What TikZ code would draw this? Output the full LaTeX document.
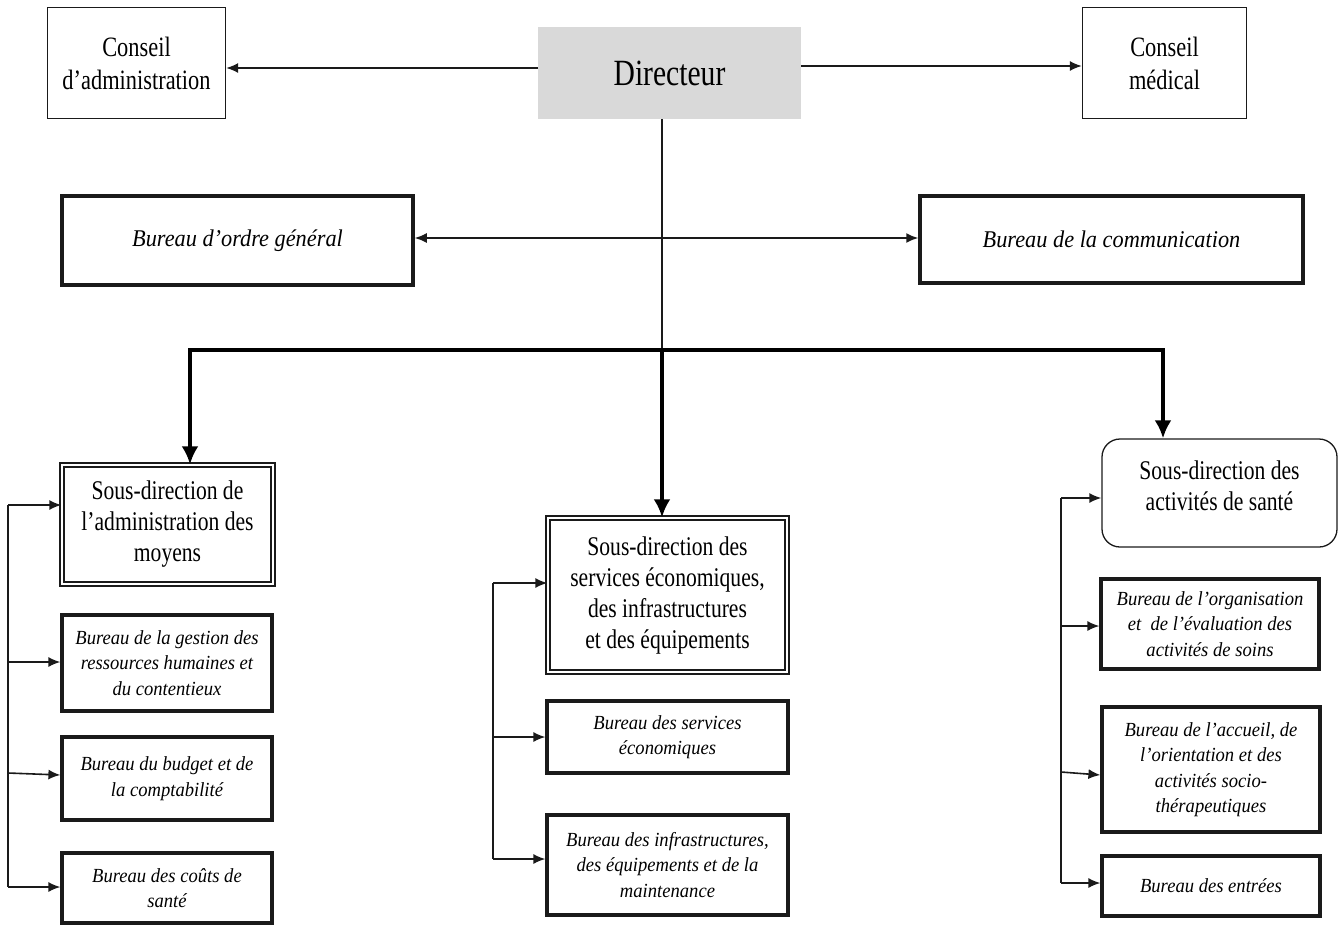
\documentclass[tikz,border=0pt]{standalone}
\usepackage{fontspec}
\setmainfont{Liberation Serif}[FakeStretch=0.8]
\newfontfamily\bureaufont{Liberation Serif}[FakeStretch=0.93]
\usetikzlibrary{arrows.meta}
\definecolor{dirgray}{HTML}{D9D9D9}
\definecolor{ink}{HTML}{1A1A1A}
\tikzset{
  thinbox/.style={draw=ink, line width=1.3pt, inner sep=2pt, align=center, font=\fontsize{28}{33}\selectfont},
  topbureau/.style={draw=ink, line width=3.5pt, inner sep=2pt, align=center, font=\bureaufont\fontsize{24}{28}\itshape\selectfont},
  subdir/.style={draw=ink, double, double distance=2.5pt, line width=1.3pt, inner sep=2pt, align=center, font=\fontsize{27}{31}\selectfont},
  bureau/.style={draw=ink, line width=3.2pt, inner sep=2pt, align=center, font=\bureaufont\fontsize{20}{25.5}\itshape\selectfont},
  arr/.style={draw=ink, line width=1.6pt, -{Latex[length=12pt,width=10pt]}},
  link/.style={draw=ink, line width=1.6pt},
  bigarr/.style={draw=black, line width=4.5pt, -{Latex[length=18pt,width=17pt]}},
  bus/.style={draw=black, line width=4.5pt, line cap=rect},
}
\begin{document}
\begin{tikzpicture}[x=1pt,y=-1pt]
\useasboundingbox (0,0) rectangle (1339,927);
% top row
\node[thinbox, minimum width=178pt, minimum height=111pt] (ca) at (136.5,63) {Conseil\\d’administration};
\node[fill=dirgray, minimum width=263pt, minimum height=92pt, font=\fontsize{37}{40}\selectfont] (dir) at (669.5,73) {Directeur};
\node[thinbox, minimum width=164pt, minimum height=111pt] (cm) at (1164.5,63) {Conseil\\médical};
% second row
\node[topbureau, minimum width=351pt, minimum height=89pt] (bog) at (237.5,240.5) {Bureau d’ordre général};
\node[topbureau, minimum width=383pt, minimum height=87pt] (bcom) at (1111.5,239.5) {Bureau de la communication};
% sub-directions
\node[subdir, minimum width=211pt, minimum height=119pt] (sd1) at (167.5,524.5) {Sous-direction de\\l’administration des\\moyens};
\node[subdir, minimum width=239pt, minimum height=154pt] (sd2) at (667.5,595) {Sous-direction des\\services économiques,\\des infrastructures\\et des équipements};
\node[draw=ink, line width=1.3pt, rounded corners=18pt, minimum width=235pt, minimum height=108pt] (sd3) at (1219.5,493) {};
\node[align=center, font=\fontsize{27}{31}\selectfont] (sd3t) at (1219.5,486) {Sous-direction des\\activités de santé};
% left bureaus
\node[bureau, minimum width=210pt, minimum height=96pt] (b11) at (167,663) {Bureau de la gestion des\\ressources humaines et\\du contentieux};
\node[bureau, minimum width=210pt, minimum height=83pt] (b12) at (167,778.5) {Bureau du budget et de\\la comptabilité};
\node[bureau, minimum width=210pt, minimum height=70pt] (b13) at (167,888) {Bureau des coûts de\\santé};
% middle bureaus
\node[bureau, minimum width=241pt, minimum height=72pt] (b21) at (667.5,737) {Bureau des services\\économiques};
\node[bureau, minimum width=241pt, minimum height=100pt] (b22) at (667.5,865) {Bureau des infrastructures,\\des équipements et de la\\maintenance};
% right bureaus
\node[bureau, minimum width=218pt, minimum height=90pt] (b31) at (1210,624) {Bureau de l’organisation\\et~ de l’évaluation des\\activités de soins};
\node[bureau, minimum width=218pt, minimum height=125pt] (b32) at (1211,769.5) {Bureau de l’accueil, de\\l’orientation et des\\activités socio-\\thérapeutiques};
\node[bureau, minimum width=218pt, minimum height=60pt] (b33) at (1211,886) {Bureau des entrées};

% top connectors
\coordinate (dl) at (538,68);
\coordinate (dr) at (801,66);
\draw[arr] (dl) -- (dl -| ca.east);
\draw[arr] (dr) -- (dr -| cm.west);
\coordinate (ds) at (662,119);
\coordinate (j) at (662,238);
\coordinate (bm) at (662,350);
\draw[link] (ds) -- (bm);
\draw[arr] (j) -- (j -| bog.east);
\draw[arr] (j) -- (j -| bcom.west);
% bus
\coordinate (bl) at (190,350);
\coordinate (br) at (1163,350);
\draw[bus] (bl) -- (br);
\draw[bigarr] (bl) -- (bl |- sd1.north);
\draw[bigarr] (bm) -- (bm |- sd2.north);
\draw[bigarr] (br) -- (br |- sd3.north);
% left feeder
\coordinate (l1) at (8,505);
\coordinate (l2) at (8,662);
\coordinate (l3) at (8,773);
\coordinate (l4) at (8,887);
\draw[link] (l1) -- (l4);
\draw[arr] (l1) -- (l1 -| sd1.west);
\draw[arr] (l2) -- (l2 -| b11.west);
\draw[arr] (l3) -- ([yshift=-2pt]l3 -| b12.west);
\draw[arr] (l4) -- (l4 -| b13.west);
% middle feeder
\coordinate (m1) at (493,583);
\coordinate (m2) at (493,737);
\coordinate (m3) at (493,859);
\draw[link] (m1) -- (m3);
\draw[arr] (m1) -- (m1 -| sd2.west);
\draw[arr] (m2) -- (m2 -| b21.west);
\draw[arr] (m3) -- (m3 -| b22.west);
% right feeder
\coordinate (r1) at (1061,498);
\coordinate (r2) at (1061,626);
\coordinate (r3) at (1061,772);
\coordinate (r4) at (1061,883);
\draw[link] (r1) -- (r4);
\draw[arr] (r1) -- (r1 -| sd3.west);
\draw[arr] (r2) -- (r2 -| b31.west);
\draw[arr] (r3) -- ([yshift=-3pt]r3 -| b32.west);
\draw[arr] (r4) -- (r4 -| b33.west);
\end{tikzpicture}
\end{document}
